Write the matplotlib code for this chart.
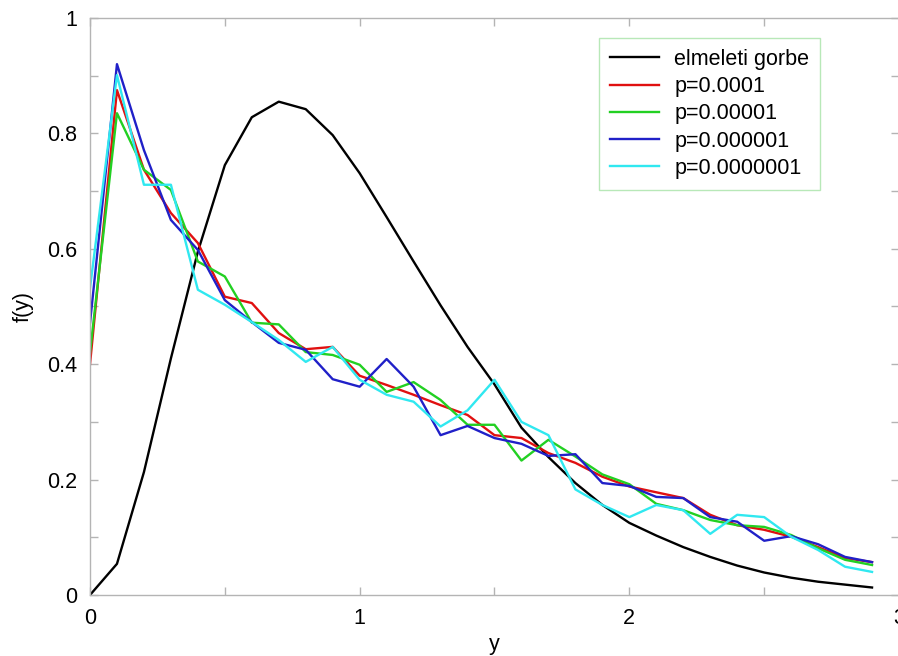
import numpy as np
import matplotlib
matplotlib.use("Agg")
import matplotlib.pyplot as plt
from matplotlib.ticker import MultipleLocator

plt.rcParams['font.family'] = ['Liberation Sans', 'DejaVu Sans']

# y values 0.0 .. 2.9 step 0.1
y_vals = [0.0, 0.1, 0.2, 0.3, 0.4, 0.5, 0.6, 0.7, 0.8, 0.9,
          1.0, 1.1, 1.2, 1.3, 1.4, 1.5, 1.6, 1.7, 1.8, 1.9,
          2.0, 2.1, 2.2, 2.3, 2.4, 2.5, 2.6, 2.7, 2.8, 2.9]

elmeleti = [0.0, 0.054, 0.213, 0.41, 0.595, 0.745, 0.828, 0.855, 0.842, 0.797,
            0.731, 0.655, 0.578, 0.502, 0.43, 0.365, 0.29, 0.239, 0.194, 0.156,
            0.125, 0.103, 0.083, 0.066, 0.051, 0.039, 0.030, 0.023, 0.018, 0.013]

p1 = [0.40, 0.875, 0.737, 0.662, 0.61, 0.517, 0.506, 0.454, 0.426, 0.43,
      0.38, 0.364, 0.347, 0.329, 0.312, 0.277, 0.272, 0.246, 0.229, 0.205,
      0.188, 0.178, 0.168, 0.139, 0.121, 0.113, 0.101, 0.083, 0.064, 0.057]

p2 = [0.42, 0.835, 0.737, 0.702, 0.578, 0.552, 0.472, 0.469, 0.421, 0.416,
      0.399, 0.352, 0.369, 0.338, 0.295, 0.295, 0.233, 0.269, 0.24, 0.209,
      0.192, 0.158, 0.147, 0.13, 0.121, 0.118, 0.104, 0.081, 0.061, 0.052]

p3 = [0.471, 0.92, 0.771, 0.65, 0.598, 0.511, 0.473, 0.437, 0.425, 0.374,
      0.361, 0.409, 0.361, 0.277, 0.293, 0.272, 0.262, 0.241, 0.244, 0.194,
      0.189, 0.17, 0.168, 0.135, 0.127, 0.094, 0.102, 0.088, 0.066, 0.057]

p4 = [0.532, 0.901, 0.711, 0.711, 0.529, 0.503, 0.473, 0.442, 0.404, 0.43,
      0.373, 0.347, 0.335, 0.292, 0.32, 0.373, 0.30, 0.277, 0.183, 0.156,
      0.135, 0.156, 0.147, 0.106, 0.139, 0.135, 0.101, 0.078, 0.049, 0.04]

labels = ['elmeleti gorbe', 'p=0.0001', 'p=0.00001', 'p=0.000001', 'p=0.0000001']
colors = ['black', '#e01010', '#22d022', '#2020c8', '#30e8f0']

fs = 15.5
fig = plt.figure(figsize=(8.98, 6.56), dpi=100)
ax = fig.add_axes([90 / 898, 61 / 656, 809 / 898, 577 / 656])

for series, lab, col in zip([elmeleti, p1, p2, p3, p4], labels, colors):
    ax.plot(y_vals, series, color=col, lw=1.7, label=lab)

ax.set_xlim(0, 3)
ax.set_ylim(0, 1)
ax.xaxis.set_major_locator(MultipleLocator(1))
ax.xaxis.set_minor_locator(MultipleLocator(0.5))
ax.yaxis.set_major_locator(MultipleLocator(0.2))
ax.yaxis.set_minor_locator(MultipleLocator(0.1))
ax.xaxis.set_major_formatter(plt.FuncFormatter(lambda v, p: '%g' % v))
ax.yaxis.set_major_formatter(plt.FuncFormatter(lambda v, p: '%g' % v))

for s in ax.spines.values():
    s.set_color('#b4b4b4')
    s.set_linewidth(1.0)
ax.tick_params(which='both', direction='in', top=True, right=True,
               color='#b4b4b4', length=6, width=1.0, labelsize=fs, pad=9)

ax.set_xlabel('y', fontsize=fs, labelpad=4)
ax.set_ylabel('f(y)', fontsize=fs, labelpad=10)

leg = ax.legend(loc='upper left', bbox_to_anchor=(0.629, 0.965), fontsize=fs,
                frameon=True, fancybox=False, framealpha=1, edgecolor='#b8e8b8',
                handlelength=2.3, handletextpad=0.7, labelspacing=0.29,
                borderpad=0.5, borderaxespad=0)
leg.get_frame().set_linewidth(1.0)

fig.savefig('out.png', dpi=100)
